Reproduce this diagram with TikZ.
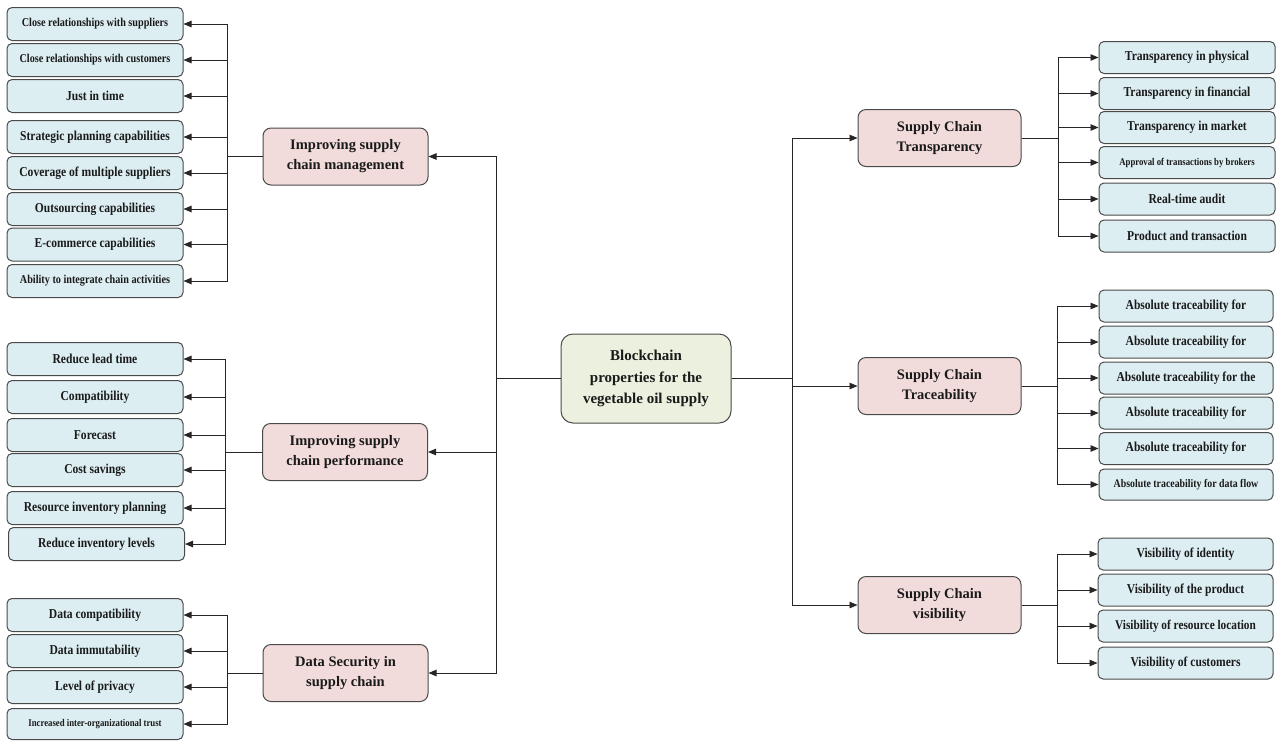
\documentclass[tikz,border=0pt]{standalone}
\usepackage{fontspec}
\setmainfont{Liberation Serif}
\newfontfamily\condserif{Liberation Serif}[FakeStretch=0.85]
\usetikzlibrary{arrows.meta}
\definecolor{leafblue}{HTML}{DDEEF3}
\definecolor{parpink}{HTML}{F2DCDB}
\definecolor{cgreen}{HTML}{EBF1DE}
\definecolor{edgegray}{HTML}{4A4A4A}
\definecolor{txt}{HTML}{1A1A1A}
\begin{document}
\begin{tikzpicture}[x=1pt,y=-1pt,
  leaf/.style={draw=edgegray, line width=1pt, fill=leafblue, rounded corners=5pt,
    minimum width=176pt, minimum height=33pt, inner sep=1pt, text=txt,
    font=\condserif\bfseries\fontsize{13.6}{15}\selectfont, align=center},
  fs/.style={font=\condserif\bfseries\fontsize{#1}{#1}\selectfont},
  parent/.style={draw=edgegray, line width=1pt, fill=parpink, rounded corners=8pt,
    minimum width=165pt, minimum height=57pt, inner sep=1pt, text=txt,
    font=\bfseries\fontsize{14.5}{20}\selectfont, align=center},
  root/.style={draw=edgegray, line width=1pt, fill=cgreen, rounded corners=12pt,
    minimum width=170pt, minimum height=89pt, inner sep=1pt, text=txt,
    font=\bfseries\fontsize{15}{21.7}\selectfont, align=center},
  conn/.style={draw=black!85, line width=0.9pt},
  arr/.style={conn, -{Triangle[length=8pt,width=6.5pt]}}
]
\fill[white] (0,0) rectangle (1277,740);
\useasboundingbox (0,0) rectangle (1277,740);

% root
\node[root] (root) at (646,378.5) {Blockchain\\properties for the\\vegetable oil supply};

% left parents
\node[parent] (pA) at (345.5,156.5) {Improving supply\\chain management};
\node[parent] (pB) at (345,452) {Improving supply\\chain performance};
\node[parent] (pC) at (345.5,673) {Data Security in\\supply chain};

% right parents
\node[parent, minimum width=163pt] (pD) at (939.5,138) {Supply Chain\\Transparency};
\node[parent, minimum width=163pt] (pE) at (939.5,386) {Supply Chain\\Traceability};
\node[parent, minimum width=163pt] (pF) at (939.5,605) {Supply Chain\\visibility};

% group A leaves
\node[leaf, fs=12] (a1) at (95,24) {Close relationships with suppliers};
\node[leaf, fs=12] (a2) at (95,60) {Close relationships with customers};
\node[leaf] (a3) at (95,96) {Just in time};
\node[leaf] (a4) at (95,137) {Strategic planning capabilities};
\node[leaf] (a5) at (95,173) {Coverage of multiple suppliers};
\node[leaf] (a6) at (95,209) {Outsourcing capabilities};
\node[leaf] (a7) at (95,244.5) {E-commerce capabilities};
\node[leaf, fs=12] (a8) at (95,281) {Ability to integrate chain activities};

% group B leaves
\node[leaf] (b1) at (95,359) {Reduce lead time};
\node[leaf] (b2) at (95,397) {Compatibility};
\node[leaf] (b3) at (95,435) {Forecast};
\node[leaf] (b4) at (95,470) {Cost savings};
\node[leaf] (b5) at (95,508) {Resource inventory planning};
\node[leaf] (b6) at (96.5,544) {Reduce inventory levels};

% group C leaves
\node[leaf] (c1) at (95,615) {Data compatibility};
\node[leaf] (c2) at (95,651) {Data immutability};
\node[leaf] (c3) at (95,687) {Level of privacy};
\node[leaf, fs=10.3, minimum height=31pt] (c4) at (95,724) {Increased inter-organizational trust};

% group D leaves
\node[leaf, minimum height=32pt] (d1) at (1187,57.5) {Transparency in physical};
\node[leaf, minimum height=32pt] (d2) at (1187,93.5) {Transparency in financial};
\node[leaf, minimum height=32pt] (d3) at (1187,127.5) {Transparency in market};
\node[leaf, minimum height=32pt, fs=10.3] (d4) at (1187,162.5) {Approval of transactions by brokers};
\node[leaf, minimum height=32pt] (d5) at (1187,199) {Real-time audit};
\node[leaf, minimum height=32pt] (d6) at (1187,236) {Product and transaction};

% group E leaves
\node[leaf, minimum width=174pt, minimum height=32pt] (e1) at (1186,306) {Absolute traceability for};
\node[leaf, minimum width=174pt, minimum height=32pt] (e2) at (1186,342) {Absolute traceability for};
\node[leaf, minimum width=174pt, minimum height=32pt] (e3) at (1186,378) {Absolute traceability for the};
\node[leaf, minimum width=174pt, minimum height=32pt] (e4) at (1186,413) {Absolute traceability for};
\node[leaf, minimum width=174pt, minimum height=32pt] (e5) at (1186,448.5) {Absolute traceability for};
\node[leaf, minimum width=174pt, minimum height=31pt, fs=11.6] (e6) at (1186,484.5) {Absolute traceability for data flow};

% group F leaves
\node[leaf, minimum width=175pt, minimum height=32pt] (f1) at (1185.5,554) {Visibility of identity};
\node[leaf, minimum width=175pt, minimum height=32pt] (f2) at (1185.5,590) {Visibility of the product};
\node[leaf, minimum width=175pt, minimum height=32pt, fs=13.3] (f3) at (1185.5,626) {Visibility of resource location};
\node[leaf, minimum width=175pt, minimum height=32pt] (f4) at (1185.5,663) {Visibility of customers};

% bus points
\coordinate (mL) at (496,378.5);
\coordinate (mR) at (792,378.5);
\coordinate (bA) at (227,156.5);
\coordinate (bB) at (225,452);
\coordinate (bC) at (227,673);
\coordinate (bD) at (1058,138);
\coordinate (bE) at (1057,386);
\coordinate (bF) at (1057,605);

% connectors
\foreach \n in {pA,pB,pC} \draw[arr] (root.west) -- (mL) |- (\n.east);
\foreach \n in {pD,pE,pF} \draw[arr] (root.east) -- (mR) |- (\n.west);
\foreach \n in {a1,a2,a3,a4,a5,a6,a7,a8} \draw[arr] (pA.west) -- (bA) |- (\n.east);
\foreach \n in {b1,b2,b3,b4,b5,b6} \draw[arr] (pB.west) -- (bB) |- (\n.east);
\foreach \n in {c1,c2,c3,c4} \draw[arr] (pC.west) -- (bC) |- (\n.east);
\foreach \n in {d1,d2,d3,d4,d5,d6} \draw[arr] (pD.east) -- (bD) |- (\n.west);
\foreach \n in {e1,e2,e3,e4,e5,e6} \draw[arr] (pE.east) -- (bE) |- (\n.west);
\foreach \n in {f1,f2,f3,f4} \draw[arr] (pF.east) -- (bF) |- (\n.west);
\end{tikzpicture}
\end{document}
